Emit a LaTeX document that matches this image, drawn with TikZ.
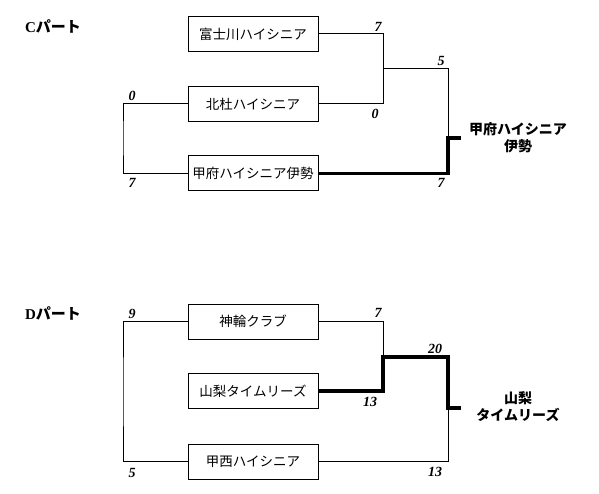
\documentclass[tikz,border=0pt]{standalone}
\usepackage{fontspec}
\setmainfont{Liberation Serif}
\newfontfamily\jp{Noto Sans CJK JP}
\begin{document}
\begin{tikzpicture}[x=1pt,y=-1pt,
  team/.style={draw,line width=1pt,minimum width=130pt,minimum height=35pt,inner sep=0pt,font=\jp\fontsize{13.5}{13.5}\selectfont},
  thinl/.style={line width=1pt},
  thickl/.style={line width=3.5pt},
  score/.style={font=\bfseries\itshape\fontsize{14}{14}\selectfont,inner sep=0pt},
  part/.style={font=\fontsize{15}{15}\selectfont,inner sep=0pt},
  winner/.style={font=\jp\bfseries\fontsize{14}{17}\selectfont,align=center,inner sep=0pt}]
\useasboundingbox (0,0) rectangle (599,494);
% C part
\node[part] (cp) at (53,26) {\textbf{C}{\jp\bfseries パート}};
\node[team] (b1) at (253,34) {富士川ハイシニア};
\node[team] (b2) at (253,104) {北杜ハイシニア};
\node[team] (b3) at (253,173.5) {甲府ハイシニア伊勢};
\coordinate (cl) at (123,138);
\coordinate (cj) at (383,69);
\coordinate (cw) at (448,138);
\coordinate (cwe) at (461,138);
\draw[thinl] (b2.west) -| (cl) |- (b3.west);
\draw[thinl] (b1.east) -| (cj);
\draw[thinl] (b2.east) -| (cj);
\draw[thinl] (cj) -| (cw);
\draw[thickl] (b3.east) -| (cw) -- (cwe);
\node[score] (s1) at (132,96) {0};
\node[score] (s2) at (132,183) {7};
\node[score] (s3) at (378,27) {7};
\node[score] (s4) at (375,114) {0};
\node[score] (s5) at (441,61) {5};
\node[score] (s6) at (441,183) {7};
\node[winner] (wc) at (518,138) {甲府ハイシニア\\伊勢};
% D part
\node[part] (dp) at (53,313) {\textbf{D}{\jp\bfseries パート}};
\node[team] (d1) at (253,321.5) {神輪クラブ};
\node[team] (d2) at (253,391) {山梨タイムリーズ};
\node[team] (d3) at (253,461.5) {甲西ハイシニア};
\coordinate (dl) at (123,392);
\coordinate (dj) at (383,357);
\coordinate (dw) at (448,408);
\coordinate (dwe) at (461,408);
\draw[thinl] (d1.west) -| (dl) |- (d3.west);
\draw[thinl] (d1.east) -| (dj);
\draw[thinl] (d3.east) -| (dw);
\draw[thickl] (d2.east) -| (dj) -| (dw) -- (dwe);
\node[score] (t1) at (132,314) {9};
\node[score] (t2) at (132,473) {5};
\node[score] (t3) at (378,313) {7};
\node[score] (t4) at (370,402) {13};
\node[score] (t5) at (435,349) {20};
\node[score] (t6) at (435,472) {13};
\node[winner] (wd) at (518,407) {山梨\\タイムリーズ};
\end{tikzpicture}
\end{document}
